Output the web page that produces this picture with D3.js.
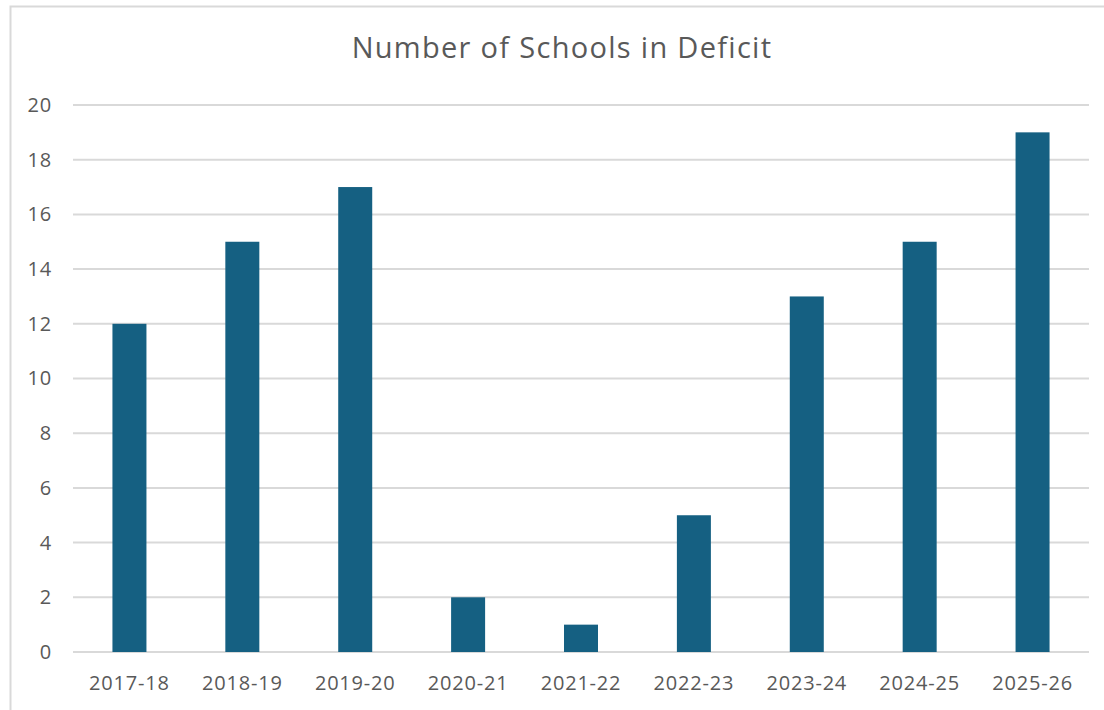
<!DOCTYPE html>
<html>
<head>
<meta charset="utf-8">
<script src="https://cdn.jsdelivr.net/npm/d3@7"></script>
<style>
  html, body { margin: 0; padding: 0; background: #ffffff; }
  svg { display: block; }
</style>
</head>
<body>
<script>
const categories = ["2017-18", "2018-19", "2019-20", "2020-21", "2021-22", "2022-23", "2023-24", "2024-25", "2025-26"];
const values = [12, 15, 17, 2, 1, 5, 13, 15, 19];
const yTicks = [0, 2, 4, 6, 8, 10, 12, 14, 16, 18, 20];
const title = "Number of Schools in Deficit";

const W = 1104, H = 710;
const font = "'Open Sans', 'Liberation Sans', sans-serif";
const textColor = "#595959";

const svg = d3.select("body").append("svg").attr("width", W).attr("height", H);

// chart frame
svg.append("rect")
  .attr("x", 10.5).attr("y", 6.5)
  .attr("width", 1120).attr("height", 730)
  .attr("fill", "#ffffff")
  .attr("stroke", "#d9d9d9").attr("stroke-width", 2);

const x = d3.scaleBand().domain(categories).range([73, 1089]).paddingInner(0).paddingOuter(0);
const y = d3.scaleLinear().domain([0, 20]).range([652, 105]);

// gridlines
svg.append("g").selectAll("line").data(yTicks).join("line")
  .attr("x1", 73).attr("x2", 1089)
  .attr("y1", d => y(d)).attr("y2", d => y(d))
  .attr("stroke", "#d9d9d9").attr("stroke-width", 2);

// y-axis labels
const yAxis = d3.axisLeft(y).tickValues(yTicks).tickSize(0).tickPadding(0);
const gy = svg.append("g").attr("transform", "translate(52,0)").call(yAxis);
gy.select(".domain").remove();
gy.selectAll("text")
  .attr("font-family", font).attr("font-size", 20).attr("letter-spacing", 0.8)
  .attr("fill", textColor);

// bars
const barW = 34;
svg.append("g").selectAll("rect").data(values).join("rect")
  .attr("x", (d, i) => x(categories[i]) + x.bandwidth() / 2 - barW / 2)
  .attr("width", barW)
  .attr("y", d => y(d))
  .attr("height", d => y(0) - y(d))
  .attr("fill", "#156082");

// x-axis labels
const xAxis = d3.axisBottom(x).tickSize(0).tickPadding(0);
const gx = svg.append("g").attr("transform", "translate(0,676)").call(xAxis);
gx.select(".domain").remove();
gx.selectAll("text")
  .attr("font-family", font).attr("font-size", 20).attr("letter-spacing", 0.8)
  .attr("fill", textColor);

// title
svg.append("text")
  .attr("x", 562).attr("y", 58)
  .attr("text-anchor", "middle")
  .attr("font-family", font).attr("font-size", 29).attr("letter-spacing", 1.3)
  .attr("fill", textColor)
  .text(title);
</script>
</body>
</html>
